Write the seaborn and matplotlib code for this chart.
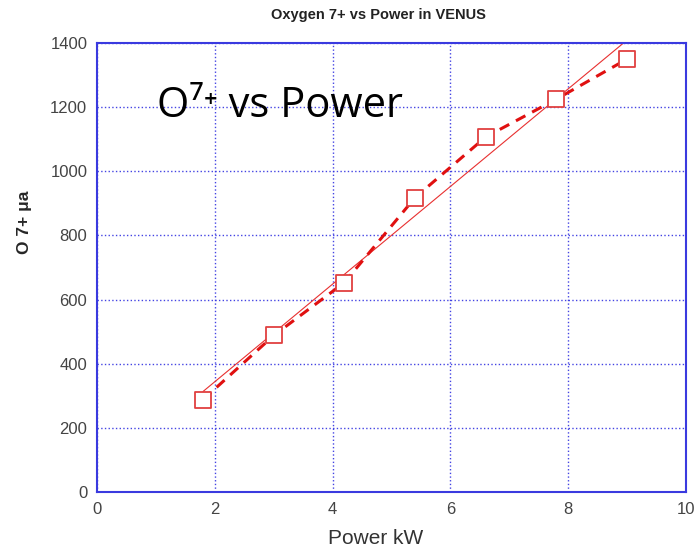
import numpy as np
import pandas as pd
import matplotlib
matplotlib.use("Agg")
import matplotlib.pyplot as plt
import seaborn as sns

# O7+ current vs RF power in VENUS
power_kw = [1.8, 3.0, 4.2, 5.4, 6.6, 7.8, 9.0]
o7_current = [288, 488, 653, 918, 1107, 1225, 1350]

df = pd.DataFrame({"Power kW": power_kw, "O 7+ μa": o7_current})

sns.set_style("white")
plt.rcParams['font.family'] = ['Liberation Sans', 'DejaVu Sans']

blue = "#3a3adf"
red = "#e01010"

fig = plt.figure(figsize=(6.96, 5.51), dpi=100)
ax = fig.add_axes([97 / 696, 1 - 492 / 551, 589 / 696, 449 / 551])

# linear fit (thin line)
sns.regplot(data=df, x="Power kW", y="O 7+ μa", scatter=False, ci=None, ax=ax,
            line_kws={"color": "#e83030", "linewidth": 0.8})

# dashed data line
sns.lineplot(data=df, x="Power kW", y="O 7+ μa", ax=ax, color=red,
             linewidth=2.2, linestyle=(0, (3.5, 2.5)))
# open squares
sns.scatterplot(data=df, x="Power kW", y="O 7+ μa", ax=ax, marker="s", s=140,
                facecolor="white", edgecolor="#e04040", linewidth=1.3, zorder=5)

ax.set_xlim(0, 10)
ax.set_ylim(0, 1400)
ax.set_xticks(range(0, 11, 2))
ax.set_yticks(range(0, 1401, 200))
ax.grid(True, color="#3030e0", linestyle=":", linewidth=1.0, alpha=0.9)
for s in ax.spines.values():
    s.set_color(blue)
    s.set_linewidth(1.5)
ax.tick_params(direction="in", color=blue, length=4, width=1.5,
               labelsize=12, labelcolor="#444444", pad=7)

ax.set_xlabel("Power kW", fontsize=15, color="#333333")
ax.xaxis.set_label_coords((376 - 97) / 589, -0.082)
ax.set_ylabel("O 7+ μa", fontsize=12.5, fontweight="bold")
ax.yaxis.set_label_coords(-0.11, (492 - 222) / 449)
fig.text(378 / 696, 1 - 15 / 551, "Oxygen 7+ vs Power in VENUS", ha="center", va="center",
         fontsize=10.5, fontweight="bold", color="#222222")

ax.text(0.102, 0.86, "O\u2077\u207a vs Power", transform=ax.transAxes,
        fontsize=30, family=["Open Sans", "DejaVu Sans"], color="black",
        va="center", ha="left")

plt.savefig("out.png", dpi=100)
